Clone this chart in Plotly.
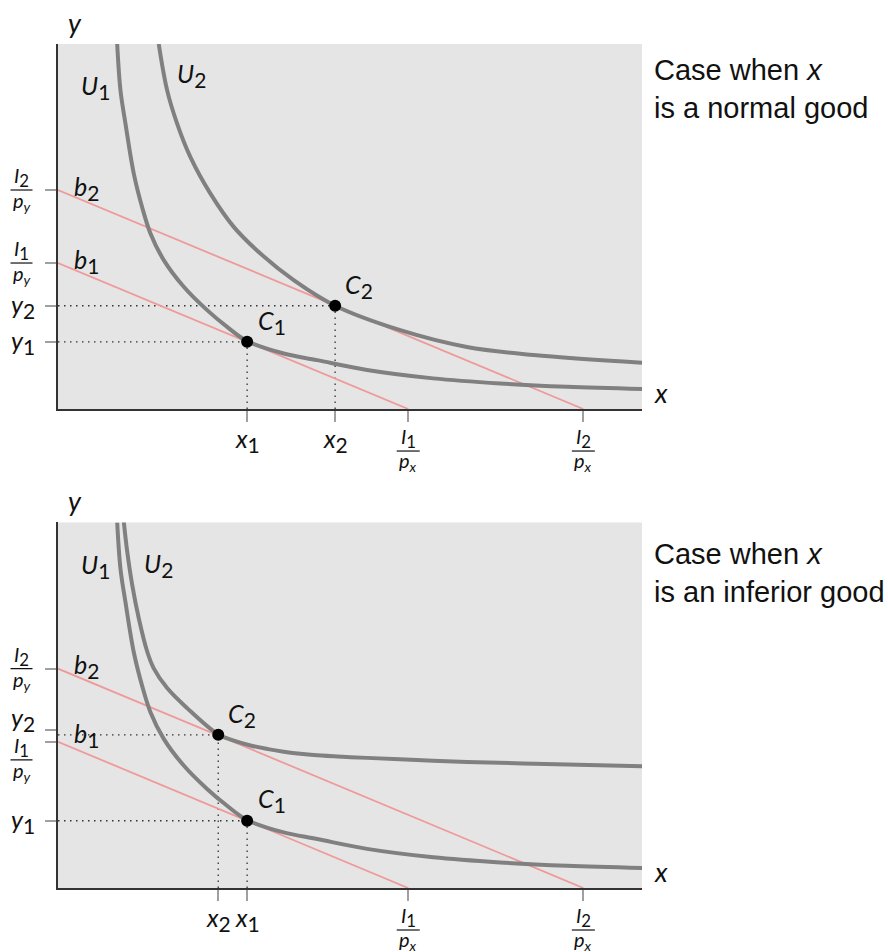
import plotly.graph_objects as go

# ---------------- data ----------------
X_MAX = 13.34
Y_MAX = 10.0

I1_px, I2_px = 8.0, 12.0      # x-intercepts of budget lines b1, b2
I1_py, I2_py = 4.0, 6.0       # y-intercepts of budget lines b1, b2

# top panel: x is a normal good
top_x1, top_y1 = 4.32, 1.84
top_x2, top_y2 = 6.33, 2.83

# bottom panel: x is an inferior good
bot_x1, bot_y1 = 4.32, 1.84
bot_x2, bot_y2 = 3.66, 4.19
bot_y2_tick = 4.33

# indifference curve U1 (same in both panels)
U1_x = [1.352, 1.427, 1.541, 1.731, 1.922, 2.112, 2.416, 2.872, 3.406, 3.863,
        4.32, 5.155, 5.918, 7.06, 8.57, 10.10, 11.63, 13.34]
U1_y = [10.0, 8.73, 7.82, 6.45, 5.53, 4.81, 4.08, 3.35, 2.71, 2.25,
        1.86, 1.52, 1.34, 1.07, 0.84, 0.70, 0.61, 0.55]

# indifference curve U2, top panel
U2t_x = [2.301, 2.493, 2.721, 3.025, 3.482, 4.014, 4.623, 5.384, 6.33, 7.82,
         9.34, 10.86, 13.34]
U2t_y = [10.0, 8.73, 7.82, 6.90, 5.90, 4.99, 4.26, 3.53, 2.83, 2.16,
         1.70, 1.48, 1.27]

# indifference curve U2, bottom panel
U2b_x = [1.502, 1.580, 1.694, 1.845, 2.037, 2.187, 2.493, 2.950, 3.66, 4.0,
         4.395, 4.8, 5.155, 5.536, 5.918, 6.5, 7.06, 8.2, 9.34, 11.63, 13.34]
U2b_y = [10.03, 9.21, 8.30, 7.38, 6.47, 6.01, 5.47, 4.92, 4.20, 4.04,
         3.90, 3.80, 3.73, 3.67, 3.63, 3.59, 3.56, 3.50, 3.45, 3.38, 3.33]

# ---------------- styles ----------------
CURVE = "#808080"
BUDGET = "#ef9a9a"
MATH = "Lato"
TXT = "#111111"
DOT = dict(color="#333", width=1.3, dash="1.5px,4.5px")


def sub(t):
    return '<sub><span style="font-size:120%">' + t + "</span></sub>"


fig = go.Figure()


def add_panel(xa, ya, u2x, u2y, x1, y1, x2, y2):
    # dotted guides
    for px, py in [(x1, y1), (x2, y2)]:
        fig.add_trace(go.Scatter(x=[0, px], y=[py, py], mode="lines", line=DOT,
                                 xaxis=xa, yaxis=ya, hoverinfo="skip"))
        fig.add_trace(go.Scatter(x=[px, px], y=[0, py], mode="lines", line=DOT,
                                 xaxis=xa, yaxis=ya, hoverinfo="skip"))
    # budget lines
    for ipx, ipy in [(I1_px, I1_py), (I2_px, I2_py)]:
        fig.add_trace(go.Scatter(x=[0, ipx], y=[ipy, 0], mode="lines",
                                 line=dict(color=BUDGET, width=1.8),
                                 xaxis=xa, yaxis=ya, hoverinfo="skip"))
    # indifference curves
    for cx, cy in [(U1_x, U1_y), (u2x, u2y)]:
        fig.add_trace(go.Scatter(x=cx, y=cy, mode="lines",
                                 line=dict(color=CURVE, width=4, shape="spline", smoothing=1),
                                 xaxis=xa, yaxis=ya, hoverinfo="skip"))
    # consumption points
    fig.add_trace(go.Scatter(x=[x1, x2], y=[y1, y2], mode="markers",
                             marker=dict(color="black", size=12),
                             xaxis=xa, yaxis=ya, hoverinfo="skip"))


add_panel("x", "y", U2t_x, U2t_y, top_x1, top_y1, top_x2, top_y2)
add_panel("x2", "y2", U2b_x, U2b_y, bot_x1, bot_y1, bot_x2, bot_y2)

annotations = []
shapes = []


def ann(text, x, y, xref, yref, size=25, xshift=0, yshift=0,
        xanchor="center", yanchor="middle", family=MATH):
    annotations.append(dict(text=text, x=x, y=y, xref=xref, yref=yref,
                            xshift=xshift, yshift=yshift, showarrow=False,
                            xanchor=xanchor, yanchor=yanchor, align="left",
                            borderpad=0,
                            font=dict(family=family, size=size, color=TXT)))


FR = 20  # fraction font size


def yfrac(num, den, yval, xr, yr, bar_shift=0):
    shapes.append(dict(type="line", xref=xr + " domain", yref=yr,
                       xsizemode="pixel", xanchor=0, x0=-47.5, x1=-25.5,
                       ysizemode="pixel", yanchor=yval, y0=bar_shift, y1=bar_shift,
                       line=dict(color=TXT, width=1.2)))
    ann(num, 0, yval, xr + " domain", yr, size=FR, xshift=-36.5, yshift=bar_shift - 2, yanchor="bottom")
    ann(den, 0, yval, xr + " domain", yr, size=FR, xshift=-36.5, yshift=bar_shift + 3, yanchor="top")


def xfrac(num, den, xval, xr, yr):
    shapes.append(dict(type="line", xref=xr, yref=yr + " domain",
                       xsizemode="pixel", xanchor=xval, x0=-11.5, x1=11.5,
                       ysizemode="pixel", yanchor=0, y0=-42, y1=-42,
                       line=dict(color=TXT, width=1.2)))
    ann(num, xval, 0, xr, yr + " domain", size=FR, yshift=-44, yanchor="bottom")
    ann(den, xval, 0, xr, yr + " domain", size=FR, yshift=-38, yanchor="top")


def panel_labels(xr, yr, u2_lab, b2_lab, b1_lab, c1_lab, c2_lab, x1, x2, y1, y2tick,
                 y2_shift, i1_shift, case_text, case_y):
    ann("<i>y</i>", 0, 1, xr, yr + " domain", size=27, xshift=17, yshift=22)
    ann("<i>x</i>", 1, 0, xr + " domain", yr, size=27, xshift=19, yshift=17)
    ann("<i>U</i>" + sub("1"), 0.856, 8.81, xr, yr)
    ann("<i>U</i>" + sub("2"), u2_lab[0], u2_lab[1], xr, yr)
    ann("<i>b</i>" + sub("2"), b2_lab[0], b2_lab[1], xr, yr)
    ann("<i>b</i>" + sub("1"), b1_lab[0], b1_lab[1], xr, yr)
    ann("<i>C</i>" + sub("1"), c1_lab[0], c1_lab[1], xr, yr)
    ann("<i>C</i>" + sub("2"), c2_lab[0], c2_lab[1], xr, yr)
    # x tick labels
    ann("<i>x</i>" + sub("1"), x1, 0, xr, yr, yshift=-31)
    ann("<i>x</i>" + sub("2"), x2, 0, xr, yr, yshift=-31)
    xfrac("<i>I</i>" + sub("1"), "<i>p<sub>x</sub></i>", I1_px, xr, yr)
    xfrac("<i>I</i>" + sub("2"), "<i>p<sub>x</sub></i>", I2_px, xr, yr)
    # y tick labels
    ann("<i>y</i>" + sub("1"), 0, y1, xr + " domain", yr, xshift=-35.5)
    ann("<i>y</i>" + sub("2"), 0, y2tick, xr + " domain", yr, xshift=-35.5, yshift=y2_shift)
    yfrac("<i>I</i>" + sub("1"), "<i>p<sub>y</sub></i>", I1_py, xr, yr, bar_shift=i1_shift)
    yfrac("<i>I</i>" + sub("2"), "<i>p<sub>y</sub></i>", I2_py, xr, yr)
    # case text
    ann(case_text, 1, case_y, xr + " domain", yr + " domain", size=29, xshift=11,
        xanchor="left", family="Liberation Sans")


panel_labels("x", "y", (3.05, 9.14), (0.65, 6.05), (0.65, 4.05), (4.89, 2.38), (6.88, 3.37),
             top_x1, top_x2, top_y1, top_y2, 0, 0,
             "Case when <i>x</i><br>is a normal good", 0.8755)
panel_labels("x2", "y2", (2.30, 8.84), (0.65, 6.08), (0.65, 4.18), (4.89, 2.40), (4.2, 4.73),
             bot_x1, bot_x2, bot_y1, bot_y2_tick, 11, -18,
             "Case when <i>x</i><br>is an inferior good", 0.863)

axis_common = dict(showgrid=False, zeroline=False, showline=True, linecolor="#333",
                   linewidth=1.5, ticks="outside", ticklen=11, tickwidth=1.5,
                   tickcolor="#a0a0a0", showticklabels=False, fixedrange=True)

fig.update_layout(
    width=888, height=952,
    margin=dict(l=58, r=246, t=44, b=64),
    paper_bgcolor="white", plot_bgcolor="#e5e5e5",
    showlegend=False,
    xaxis=dict(domain=[0, 1], range=[0, X_MAX], anchor="y",
               tickvals=[top_x1, top_x2, I1_px, I2_px], **axis_common),
    yaxis=dict(domain=[0.5675, 1], range=[0, Y_MAX], anchor="x",
               tickvals=[top_y1, top_y2, I1_py, I2_py], **axis_common),
    xaxis2=dict(domain=[0, 1], range=[0, X_MAX], anchor="y2",
                tickvals=[bot_x2, bot_x1, I1_px, I2_px], **axis_common),
    yaxis2=dict(domain=[0, 0.4331], range=[0, Y_MAX], anchor="x2",
                tickvals=[bot_y1, bot_y2_tick, I1_py, I2_py], **axis_common),
    annotations=annotations,
    shapes=shapes,
)

fig.write_html("out.html", config={"displayModeBar": False},
               post_script="document.body.style.margin='0px';")
